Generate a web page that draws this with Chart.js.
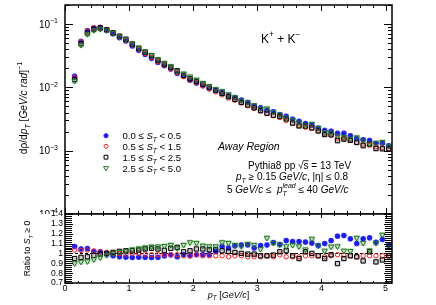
<!DOCTYPE html>
<html>
<head>
<meta charset="utf-8">
<script src="https://cdn.jsdelivr.net/npm/chart.js@4.4.0/dist/chart.umd.min.js"></script>
<style>
  body { margin: 0; background: #fff; width: 436px; height: 305px; position: relative; overflow: hidden; }
  canvas { position: absolute; left: 0; top: 0; }
</style>
</head>
<body>
<canvas id="mainChart" width="436" height="305"></canvas>
<canvas id="ratioChart" width="436" height="305"></canvas>
<script>
// ============================================================
// K+ + K- spectra vs transverse spherocity, Away region
// ============================================================

const ptBins = [0.15,0.25,0.35,0.45,0.55,0.65,0.75,0.85,0.95,1.05,1.15,1.25,1.35,1.45,1.55,1.65,1.75,1.85,1.95,2.05,
                2.15,2.25,2.35,2.45,2.55,2.65,2.75,2.85,2.95,3.05,3.15,3.25,3.35,3.45,3.55,3.65,3.75,3.85,3.95,4.05,
                4.15,4.25,4.35,4.45,4.55,4.65,4.75,4.85,4.95,5.05];

// dρ/dpT per S_T class
const specST0 = [0.0150,0.0533,0.0788,0.0867,0.0885,0.0804,0.0703,0.0609,0.0539,0.0451,0.0385,0.0331,0.0287,0.0248,0.0220,0.0195,0.0166,0.0150,0.0130,0.0117,
                 0.0107,0.00957,0.00887,0.00835,0.00739,0.00689,0.00630,0.00576,0.00506,0.00475,0.00434,0.00411,0.00371,0.00350,0.00314,0.00291,0.00268,0.00254,0.00227,0.00209,
                 0.00203,0.00188,0.00189,0.00172,0.00154,0.00149,0.00145,0.00131,0.00131,0.00119];
const specST1 = [0.0145,0.0525,0.0776,0.0871,0.0885,0.0818,0.0720,0.0630,0.0556,0.0470,0.0400,0.0343,0.0296,0.0255,0.0223,0.0195,0.0170,0.0148,0.0130,0.0117,
                 0.0105,0.00947,0.00849,0.00761,0.00676,0.00625,0.00566,0.00512,0.00464,0.00425,0.00390,0.00357,0.00335,0.00299,0.00270,0.00251,0.00234,0.00224,0.00205,0.00184,
                 0.00176,0.00158,0.00157,0.00146,0.00135,0.00127,0.00122,0.00115,0.00112,0.00107];
const specST2 = [0.0133,0.0490,0.0725,0.0833,0.0866,0.0810,0.0727,0.0643,0.0575,0.0483,0.0414,0.0361,0.0316,0.0270,0.0233,0.0208,0.0183,0.0155,0.0137,0.0124,
                 0.0113,0.0101,0.00903,0.00801,0.00714,0.00646,0.00580,0.00526,0.00477,0.00429,0.00390,0.00364,0.00346,0.00318,0.00273,0.00246,0.00244,0.00230,0.00205,0.00180,
                 0.00178,0.00144,0.00152,0.00146,0.00135,0.00120,0.00127,0.00108,0.00107,0.00107];
const specST3 = [0.0126,0.0467,0.0690,0.0799,0.0835,0.0796,0.0720,0.0641,0.0575,0.0489,0.0420,0.0366,0.0321,0.0276,0.0243,0.0215,0.0181,0.0165,0.0148,0.0132,
                 0.0117,0.0104,0.00933,0.00868,0.00774,0.00695,0.00622,0.00581,0.00521,0.00460,0.00463,0.00409,0.00371,0.00332,0.00304,0.00279,0.00250,0.00264,0.00227,0.00195,
                 0.00192,0.00172,0.00164,0.00154,0.00162,0.00144,0.00129,0.00131,0.00137,0.00119];

// ratio to S_T >= 0
const ratioST0 = [1.070,1.045,1.050,1.020,1.017,0.993,0.976,0.966,0.962,0.959,0.962,0.960,0.958,0.960,0.975,0.985,0.966,0.987,0.976,0.987,
                  0.987,0.987,1.020,1.070,1.055,1.076,1.086,1.086,1.055,1.080,1.086,1.110,1.090,1.130,1.120,1.120,1.115,1.105,1.080,1.100,
                  1.130,1.175,1.182,1.148,1.100,1.148,1.158,1.113,1.141,1.086];
const ratioST1 = [1.035,1.030,1.035,1.025,1.017,1.010,1.000,1.000,0.993,1.000,1.000,0.993,0.987,0.987,0.987,0.987,0.987,0.976,0.976,0.987,
                  0.976,0.976,0.976,0.976,0.966,0.976,0.976,0.966,0.966,0.966,0.976,0.966,0.985,0.966,0.966,0.966,0.976,0.976,0.976,0.966,
                  0.976,0.987,0.983,0.976,0.966,0.976,0.976,0.976,0.976,0.976];
const ratioST2 = [0.948,0.960,0.966,0.980,0.995,1.000,1.010,1.021,1.027,1.027,1.034,1.045,1.052,1.045,1.030,1.052,1.062,1.017,1.027,1.045,
                  1.045,1.038,1.038,1.027,1.020,1.010,1.000,0.993,0.993,0.976,0.976,0.983,1.017,1.027,0.976,0.948,1.017,1.000,0.976,0.948,
                  0.987,0.897,0.948,0.976,0.966,0.924,1.017,0.914,0.934,0.976];
const ratioST3 = [0.900,0.915,0.920,0.940,0.960,0.983,1.000,1.017,1.027,1.040,1.050,1.060,1.069,1.070,1.075,1.086,1.052,1.086,1.113,1.106,
                  1.079,1.072,1.072,1.113,1.106,1.086,1.072,1.096,1.086,1.045,1.158,1.106,1.090,1.072,1.086,1.072,1.040,1.148,1.079,1.027,
                  1.069,1.072,1.027,1.024,1.158,1.106,1.030,1.106,1.189,1.079];

const stLow  = ['0.0', '0.5', '1.5', '2.5'];
const stHigh = ['0.5', '1.5', '2.5', '5.0'];

const xMajor      = [0, 1, 2, 3, 4, 5];
const yMainMajor  = [1e-4, 1e-3, 1e-2, 1e-1];
const yRatioMajor = [0.7, 0.8, 0.9, 1.0, 1.1, 1.2, 1.3, 1.4];

const FONT = '"Liberation Sans", Arial, Helvetica, sans-serif';
Chart.defaults.font.family = FONT;
Chart.defaults.color = '#000';

// marker look per class (ROOT-ish)
const SERIES = [
  { spec: specST0, ratio: ratioST0, color: '#1a1aff', style: 'circle',   r: 2.3, fill: true,  rot: 0,   box: 'rgba(120,120,255,0.3)' },
  { spec: specST1, ratio: ratioST1, color: '#ff1a1a', style: 'circle',   r: 2.2, fill: false, rot: 0,   box: null },
  { spec: specST2, ratio: ratioST2, color: '#000000', style: 'rect',     r: 3.0, fill: false, rot: 0,   box: 'rgba(130,130,130,0.4)' },
  { spec: specST3, ratio: ratioST3, color: '#1f7a1f', style: 'triangle', r: 3.1, fill: false, rot: 180, box: 'rgba(70,150,70,0.3)' },
];

// ---------- rich text (sub/superscripts, italics) ----------
function drawRich(ctx, parts, x, y, size, align) {
  let total = 0;
  const items = parts.map(p => {
    const fs = p.d ? size * 0.7 : size;
    const font = (p.it ? 'italic ' : '') + fs + 'px ' + FONT;
    ctx.font = font;
    const w = p.d === 'ss'
      ? Math.max(ctx.measureText(p.t).width, ctx.measureText(p.u).width)
      : ctx.measureText(p.t).width;
    total += w;
    return { p, font, w };
  });
  let cx = align === 'center' ? x - total / 2 : align === 'right' ? x - total : x;
  ctx.textAlign = 'left';
  ctx.textBaseline = 'alphabetic';
  items.forEach(({ p, font, w }) => {
    ctx.font = font;
    if (p.d === 'ss') {
      ctx.fillText(p.t, cx, y + size * 0.32);
      ctx.fillText(p.u, cx, y - size * 0.48);
    } else {
      const dy = p.d === 'sub' ? size * 0.3 : p.d === 'sup' ? -size * 0.42 : 0;
      ctx.fillText(p.t, cx, y + dy);
      if (p.bar) {
        ctx.beginPath();
        ctx.lineWidth = 0.8;
        ctx.moveTo(cx - 0.5, y - size * 0.78);
        ctx.lineTo(cx + w, y - size * 0.78);
        ctx.stroke();
      }
    }
    cx += w;
  });
  return total;
}

function pts(vals) { return ptBins.map((x, i) => ({ x, y: vals[i] })); }

function makeSets(key) {
  const sets = [];
  SERIES.forEach(s => {
    if (!s.box) return;
    sets.push({ data: pts(s[key]), pointStyle: 'rect', pointRadius: 4.0, pointBorderWidth: 0,
                backgroundColor: s.box, borderColor: s.box, order: 10 });
  });
  SERIES.forEach((s, k) => {
    sets.push({ data: pts(s[key]), pointStyle: s.style, pointRotation: s.rot, pointRadius: s.r,
                pointBorderWidth: 1, borderColor: s.color,
                backgroundColor: s.fill ? s.color : 'rgba(0,0,0,0)', order: 4 - k });
  });
  return sets;
}

// ---------- frame + inward ticks on all four sides ----------
const frameTicks = {
  id: 'frameTicks',
  beforeDatasetsDraw(chart, args, o) {
    if (!o.unityLine) return;
    const { ctx, chartArea: a, scales: { y } } = chart;
    const yy = Math.round(y.getPixelForValue(1)) + 0.5;
    ctx.save();
    ctx.strokeStyle = '#000';
    ctx.lineWidth = 1;
    ctx.setLineDash([3, 2]);
    ctx.beginPath();
    ctx.moveTo(a.left, yy);
    ctx.lineTo(a.right, yy);
    ctx.stroke();
    ctx.restore();
  },
  afterDatasetsDraw(chart, args, o) {
    const { ctx, chartArea: a, scales: { x, y } } = chart;
    ctx.save();
    ctx.strokeStyle = '#000';
    ctx.lineWidth = 1;
    ctx.beginPath();
    // x ticks every 0.2, major every 1
    for (let k = 0; k * 0.2 <= x.max + 1e-9; k++) {
      const px = Math.round(x.getPixelForValue(k * 0.2)) + 0.5;
      const major = k % 5 === 0;
      const lb = major ? o.xMajB : o.xMinB, lt = major ? o.xMajT : o.xMinT;
      ctx.moveTo(px, a.bottom); ctx.lineTo(px, a.bottom - lb);
      ctx.moveTo(px, a.top);    ctx.lineTo(px, a.top + lt);
    }
    // y ticks
    o.yTicks(y).forEach(([v, major]) => {
      const py = Math.round(y.getPixelForValue(v)) + 0.5;
      const l = major ? o.yMaj : o.yMin;
      ctx.moveTo(a.left, py);  ctx.lineTo(a.left + l, py);
      ctx.moveTo(a.right, py); ctx.lineTo(a.right - l, py);
    });
    ctx.stroke();
    ctx.lineWidth = 1.5;
    ctx.strokeRect(a.left, a.top, a.right - a.left, a.bottom - a.top);
    ctx.restore();
  },
};

function logTicks(y) {
  const out = [];
  for (let e = -4; e <= 0; e++) {
    for (let m = 1; m <= 9; m++) {
      const v = m * Math.pow(10, e);
      if (v >= y.min && v <= y.max) out.push([v, m === 1]);
    }
  }
  return out;
}

function ratioTicks(y) {
  const out = [];
  for (let k = 0; k <= 35; k++) out.push([0.7 + k * 0.02, k % 5 === 0]);
  return out;
}

// ---------- texts of the upper pad ----------
const mainText = {
  id: 'mainText',
  afterDraw(chart) {
    const { ctx, scales: { y } } = chart;
    ctx.save();
    ctx.fillStyle = '#000';
    ctx.strokeStyle = '#000';

    // y tick labels 10^n
    yMainMajor.forEach(v => {
      const py = y.getPixelForValue(v);
      const ex = Math.round(Math.log10(v));
      drawRich(ctx, [{ t: '10' }, { t: '\u2212' + (-ex), d: 'sup' }], 58, py + 3.6, 10, 'right');
    });

    // y title
    ctx.save();
    ctx.translate(23, 108);
    ctx.rotate(-Math.PI / 2);
    drawRich(ctx, [{ t: 'd\u03C1/d' }, { t: 'p', it: true }, { t: 'T', d: 'sub', it: true }, { t: ' [' },
                   { t: 'GeV/c rad', it: true }, { t: ']' }, { t: '\u22121', d: 'sup' }], 0, 3.6, 10.2, 'center');
    ctx.restore();

    // particle
    drawRich(ctx, [{ t: 'K' }, { t: '+', d: 'sup' }, { t: ' + K' }, { t: '\u2212', d: 'sup' }], 261, 42.5, 12, 'left');

    // legend
    const rows = [135.7, 146.3, 157.2, 168];
    const sets = chart.data.datasets.filter(d => d.order < 10);
    sets.forEach((d, k) => {
      ctx.fillStyle = d.backgroundColor;
      ctx.strokeStyle = d.borderColor;
      ctx.lineWidth = 1;
      Chart.helpers.drawPoint(ctx, { pointStyle: d.pointStyle, rotation: d.pointRotation, radius: d.pointRadius * 0.9, borderWidth: 1 }, 106, rows[k]);
      ctx.fillStyle = '#000';
      drawRich(ctx, [{ t: stLow[k] + ' \u2264 ' }, { t: 'S', it: true }, { t: 'T', d: 'sub', it: true },
                     { t: ' < ' + stHigh[k] }], 122.5, rows[k] + 3.5, 9.6, 'left');
    });

    ctx.fillStyle = '#000';
    ctx.strokeStyle = '#000';
    drawRich(ctx, [{ t: 'Away Region', it: true }], 218, 150, 10.5, 'left');
    drawRich(ctx, [{ t: 'Pythia8 pp \u221A' }, { t: 's', bar: true }, { t: ' = 13 TeV' }], 248, 168.5, 10, 'left');
    drawRich(ctx, [{ t: 'p', it: true }, { t: 'T', d: 'sub', it: true }, { t: ' \u2265 0.15 ' }, { t: 'GeV/c', it: true },
                   { t: ', |\u03B7| \u2264 0.8' }], 236, 180, 10, 'left');
    drawRich(ctx, [{ t: '5 ' }, { t: 'GeV/c', it: true }, { t: ' \u2264  ' }, { t: 'p', it: true },
                   { t: 'T', u: 'lead', d: 'ss', it: true }, { t: ' \u2264 40 ' }, { t: 'GeV/c', it: true }], 227, 193, 10, 'left');
    ctx.restore();
  },
};

// ---------- texts + white pad background of the ratio pad ----------
const ratioPad = {
  id: 'ratioPad',
  beforeDraw(chart) {
    const { ctx } = chart;
    ctx.save();
    ctx.fillStyle = '#fff';
    ctx.fillRect(0, 214, chart.width, chart.height - 214);
    ctx.restore();
  },
  afterDraw(chart) {
    const { ctx } = chart;
    ctx.save();
    ctx.fillStyle = '#000';
    ctx.translate(27, 248.5);
    ctx.rotate(-Math.PI / 2);
    drawRich(ctx, [{ t: 'Ratio to ' }, { t: 'S', it: true }, { t: 'T', d: 'sub', it: true }, { t: ' \u2265 0' }], 0, 3, 8.6, 'center');
    ctx.restore();
    ctx.save();
    ctx.fillStyle = '#000';
    drawRich(ctx, [{ t: 'p', it: true }, { t: 'T', d: 'sub', it: true }, { t: ' [' }, { t: 'GeV/c', it: true }, { t: ']' }], 228.5, 297.5, 9, 'center');
    ctx.restore();
  },
};

const hidden = { display: false, drawTicks: false };

new Chart(document.getElementById('mainChart'), {
  type: 'scatter',
  data: { datasets: makeSets('spec') },
  plugins: [frameTicks, mainText],
  options: {
    responsive: false, animation: false, events: [],
    layout: { padding: { left: 0, top: 4, right: 44, bottom: 91 } },
    plugins: {
      legend: { display: false }, tooltip: { enabled: false },
      frameTicks: { xMajB: 6, xMinB: 3, xMajT: 6, xMinT: 3, yMaj: 8, yMin: 4, yTicks: logTicks },
    },
    scales: {
      x: { type: 'linear', min: 0, max: 5.1, display: false },
      y: {
        type: 'logarithmic', min: 1e-4, max: 0.2,
        afterFit(s) { s.width = 65; },
        grid: hidden, border: { display: false },
        ticks: { display: false },
      },
    },
  },
});

new Chart(document.getElementById('ratioChart'), {
  type: 'scatter',
  data: { datasets: makeSets('ratio') },
  plugins: [ratioPad, frameTicks],
  options: {
    responsive: false, animation: false, events: [],
    layout: { padding: { left: 0, top: 214, right: 44, bottom: 0 } },
    plugins: {
      legend: { display: false }, tooltip: { enabled: false },
      frameTicks: { xMajB: 4, xMinB: 2, xMajT: 4, xMinT: 2, yMaj: 8, yMin: 7, yTicks: ratioTicks, unityLine: true },
    },
    scales: {
      x: {
        type: 'linear', min: 0, max: 5.1,
        afterFit(s) { s.height = 22; },
        afterBuildTicks(s) { s.ticks = xMajor.map(v => ({ value: v })); },
        grid: hidden, border: { display: false },
        ticks: { padding: 0, font: { size: 9 }, maxRotation: 0, autoSkip: false },
      },
      y: {
        type: 'linear', min: 0.7, max: 1.4,
        afterFit(s) { s.width = 65; },
        afterBuildTicks(s) { s.ticks = yRatioMajor.map(v => ({ value: v })); },
        grid: hidden, border: { display: false },
        ticks: { padding: 2, font: { size: 8.6 }, autoSkip: false, callback: v => String(Math.round(v * 10) / 10) },
      },
    },
  },
});
</script>
</body>
</html>
